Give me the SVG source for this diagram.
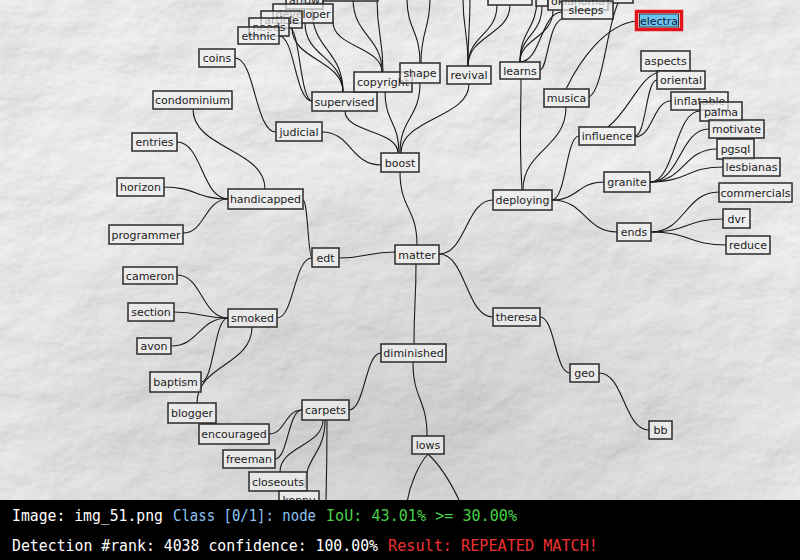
<svg xmlns="http://www.w3.org/2000/svg" width="800" height="560" viewBox="0 0 800 560">
  <defs>
    <style>
      .node rect { fill: #f0f0f0; fill-opacity: 0.7; stroke: #2a2a2a; stroke-width: 1.5; }
      .node text { font-family: "DejaVu Sans", "Noto Sans", sans-serif; font-size: 11px; fill: #1c1c1c; text-anchor: middle; }
      .links path { fill: none; stroke: #1a1a1a; stroke-width: 1.1; }
      .hud { font-family: "DejaVu Sans Mono", "Liberation Mono", monospace; font-size: 15px; }
    </style>
    <!-- crumpled paper surface -->
    <filter id="paper" x="0" y="0" width="800" height="500" filterUnits="userSpaceOnUse">
      <feTurbulence type="fractalNoise" baseFrequency="0.009 0.012" numOctaves="6" seed="11" result="noise"/>
      <feDiffuseLighting in="noise" lighting-color="#f4f4f4" surfaceScale="4.5" diffuseConstant="1.05" result="lit">
        <feDistantLight azimuth="235" elevation="58"/>
      </feDiffuseLighting>
    </filter>
    <radialGradient id="shade" cx="0.5" cy="0.9" r="0.65">
      <stop offset="0" stop-color="#000" stop-opacity="0.12"/>
      <stop offset="1" stop-color="#000" stop-opacity="0"/>
    </radialGradient>
  </defs>

  <!-- background -->
  <rect x="0" y="0" width="800" height="500" filter="url(#paper)"/>
  <rect x="0" y="0" width="800" height="500" fill="url(#shade)"/>

  <!-- connectors -->
  <g id="links" class="links">
    <path d="M417,245 C417,208 400,209 400,172"/>
    <path d="M395,252 C367,252 367,258 339,258"/>
    <path d="M439,254 C466,254 466,200 493,200"/>
    <path d="M439,254 C466,254 466,317 493,317"/>
    <path d="M416,263 C416,303 414,303 414,344"/>
    <path d="M303,200 C308,200 308,258 312,258"/>
    <path d="M312,258 C294,258 294,318 277,318"/>
    <path d="M265,189 C265,149 193,149 193,109"/>
    <path d="M228,199 C202,199 202,142 177,142"/>
    <path d="M228,199 C196,199 196,187 164,187"/>
    <path d="M228,199 C205,199 205,233 183,233"/>
    <path d="M381,165 C351,165 351,132 322,132"/>
    <path d="M276,132 C255,132 255,58 235,58"/>
    <path d="M398,153 C398,130 345,133 345,111"/>
    <path d="M399,153 C399,122 385,122 385,92"/>
    <path d="M400,153 C400,118 420,118 420,83"/>
    <path d="M401,153 C401,118 469,118 469,84"/>
    <path d="M312,101 C295,101 295,36 279,36"/>
    <path d="M312,101 C300,101 300,27 289,27"/>
    <path d="M343,92 C343,60 292,60 292,28"/>
    <path d="M343,92 C343,57 305,57 305,23"/>
    <path d="M343,92 C343,50 312,50 312,9"/>
    <path d="M382,72 C382,47 333,47 333,22"/>
    <path d="M382,72 C382,36 353,36 353,-2"/>
    <path d="M383,72 C383,36 377,36 377,-2"/>
    <path d="M420,63 C420,30 407,30 407,-2"/>
    <path d="M421,63 C421,30 430,30 430,-2"/>
    <path d="M468,66 C468,30 463,30 463,-2"/>
    <path d="M468,66 C468,30 470,30 470,-2"/>
    <path d="M468,66 C468,35 497,35 497,5"/>
    <path d="M468,66 C468,35 510,35 510,5"/>
    <path d="M520,62 C520,30 537,30 537,-2"/>
    <path d="M520,62 C520,35 542,35 542,6"/>
    <path d="M520,62 C520,38 553,38 553,10"/>
    <path d="M520,62 C541,62 541,12 562,12"/>
    <path d="M540,70 C548,70 548,18 565,18"/>
    <path d="M589,97 C603,90 606,30 618,3"/>
    <path d="M566,89 C580,60 605,25 636,21"/>
    <path d="M522,190 C519,140 521,120 521,79"/>
    <path d="M523,190 C523,150 566,148 566,107"/>
    <path d="M552,200 C566,200 566,136 579,136"/>
    <path d="M552,200 C578,200 578,182 604,182"/>
    <path d="M552,200 C585,200 585,232 617,232"/>
    <path d="M608,127 C630,110 640,75 660,72"/>
    <path d="M635,136 C646,136 646,80 657,80"/>
    <path d="M635,137 C653,137 653,101 671,101"/>
    <path d="M650,182 C675,182 675,111 700,111"/>
    <path d="M650,182 C680,182 680,129 709,129"/>
    <path d="M650,182 C684,182 684,149 717,149"/>
    <path d="M650,182 C687,182 687,167 723,167"/>
    <path d="M651,232 C685,232 685,192 719,192"/>
    <path d="M651,232 C687,232 687,219 723,219"/>
    <path d="M651,232 C689,232 689,245 726,245"/>
    <path d="M540,317 C555,317 555,373 570,373"/>
    <path d="M599,373 C624,373 624,430 649,430"/>
    <path d="M381,353 C365,353 365,410 349,410"/>
    <path d="M413,362 C413,400 427,398 427,436"/>
    <path d="M428,454 C418,465 410,485 407,502"/>
    <path d="M428,454 C440,465 452,485 460,502"/>
    <path d="M302,410 C285,410 285,434 269,434"/>
    <path d="M302,410 C288,410 288,459 275,459"/>
    <path d="M323,420 C323,446 280,446 280,472"/>
    <path d="M325,420 C325,455 305,455 305,488"/>
    <path d="M327,420 C327,460 327,460 326,502"/>
    <path d="M228,318 C202,318 202,275 177,275"/>
    <path d="M228,318 C201,318 201,312 174,312"/>
    <path d="M228,318 C199,318 199,346 171,346"/>
    <path d="M228,318 C214,318 214,382 201,382"/>
    <path d="M252,327 C252,365 197,365 197,403"/>
  </g>

  <!-- nodes -->
  <g id="n-top1" class="node"><rect x="323" y="-18" width="55" height="19"/></g>
  <g id="n-top2" class="node"><rect x="488" y="-15" width="44" height="20"/></g>
  <g id="n-top3" class="node"><rect x="536" y="-14" width="12" height="20"/></g>
  <g id="n-top4" class="node"><rect x="608" y="-14" width="25" height="17"/></g>
  <g id="n-fa" class="node"><rect x="304" y="-16" width="19" height="19"/><text x="313.5" y="-1">fa</text></g>
  <g id="n-arrow" class="node"><rect x="286" y="-9" width="37" height="18"/><text x="304.5" y="4">arrow</text></g>
  <g id="n-developer" class="node"><rect x="273" y="4" width="60" height="19"/><text x="303" y="17.5">developer</text></g>
  <g id="n-article" class="node"><rect x="261" y="11" width="41" height="17"/><text x="281.5" y="23.5">article</text></g>
  <g id="n-needs" class="node"><rect x="249" y="18" width="40" height="18"/><text x="269" y="31">needs</text></g>
  <g id="n-ethnic" class="node"><rect x="238" y="27" width="41" height="17"/><text x="258.5" y="39.5">ethnic</text></g>
  <g id="n-oklahoma" class="node"><rect x="548" y="-8" width="60" height="18"/><text x="578" y="5">oklahoma</text></g>
  <g id="n-sleeps" class="node"><rect x="562" y="1" width="51" height="18"/><text x="586" y="14">sleeps</text></g>

  <g id="n-matter" class="node"><rect x="395" y="245" width="44" height="19"/><text x="417" y="258.5">matter</text></g>
  <g id="n-boost" class="node"><rect x="381" y="153" width="38" height="19"/><text x="400" y="166.5">boost</text></g>
  <g id="n-edt" class="node"><rect x="312" y="248" width="27" height="19"/><text x="325.5" y="261.5">edt</text></g>
  <g id="n-deploying" class="node"><rect x="493" y="190" width="59" height="20"/><text x="522.5" y="204">deploying</text></g>
  <g id="n-theresa" class="node"><rect x="493" y="308" width="47" height="18"/><text x="516.5" y="321">theresa</text></g>
  <g id="n-diminished" class="node"><rect x="381" y="344" width="65" height="18"/><text x="413.5" y="357">diminished</text></g>
  <g id="n-handicapped" class="node"><rect x="228" y="189" width="75" height="20"/><text x="265.5" y="203">handicapped</text></g>
  <g id="n-smoked" class="node"><rect x="228" y="309" width="49" height="18"/><text x="252.5" y="322">smoked</text></g>
  <g id="n-judicial" class="node"><rect x="276" y="122" width="46" height="19"/><text x="299" y="135.5">judicial</text></g>
  <g id="n-coins" class="node"><rect x="199" y="49" width="36" height="18"/><text x="217" y="62">coins</text></g>
  <g id="n-condominium" class="node"><rect x="153" y="91" width="79" height="18"/><text x="192.5" y="104">condominium</text></g>
  <g id="n-entries" class="node"><rect x="132" y="133" width="45" height="18"/><text x="154.5" y="146">entries</text></g>
  <g id="n-horizon" class="node"><rect x="117" y="178" width="47" height="18"/><text x="140.5" y="191">horizon</text></g>
  <g id="n-programmer" class="node"><rect x="109" y="225" width="74" height="19"/><text x="146" y="238.5">programmer</text></g>
  <g id="n-supervised" class="node"><rect x="312" y="92" width="65" height="19"/><text x="344.5" y="105.5">supervised</text></g>
  <g id="n-copyright" class="node"><rect x="354" y="72" width="58" height="20"/><text x="383" y="86">copyright</text></g>
  <g id="n-shape" class="node"><rect x="400" y="63" width="40" height="20"/><text x="420" y="77">shape</text></g>
  <g id="n-revival" class="node"><rect x="447" y="66" width="44" height="18"/><text x="469" y="79">revival</text></g>
  <g id="n-learns" class="node"><rect x="500" y="62" width="40" height="17"/><text x="520" y="74.5">learns</text></g>
  <g id="n-musica" class="node"><rect x="544" y="89" width="45" height="18"/><text x="566.5" y="102">musica</text></g>
  <g id="n-influence" class="node"><rect x="579" y="127" width="56" height="18"/><text x="607" y="140">influence</text></g>
  <g id="n-aspects" class="node"><rect x="641" y="51" width="49" height="20"/><text x="665.5" y="65">aspects</text></g>
  <g id="n-oriental" class="node"><rect x="657" y="71" width="48" height="18"/><text x="681" y="84">oriental</text></g>
  <g id="n-inflatable" class="node"><rect x="671" y="92" width="57" height="18"/><text x="699.5" y="105">inflatable</text></g>
  <g id="n-palma" class="node"><rect x="700" y="102" width="42" height="19"/><text x="721" y="115.5">palma</text></g>
  <g id="n-motivate" class="node"><rect x="709" y="120" width="55" height="18"/><text x="736.5" y="133">motivate</text></g>
  <g id="n-pgsql" class="node"><rect x="717" y="139" width="37" height="20"/><text x="735.5" y="153">pgsql</text></g>
  <g id="n-lesbianas" class="node"><rect x="723" y="158" width="57" height="18"/><text x="751.5" y="171">lesbianas</text></g>
  <g id="n-granite" class="node"><rect x="604" y="172" width="46" height="20"/><text x="627" y="186">granite</text></g>
  <g id="n-ends" class="node"><rect x="617" y="223" width="34" height="18"/><text x="634" y="236">ends</text></g>
  <g id="n-commercials" class="node"><rect x="719" y="183" width="73" height="19"/><text x="755.5" y="196.5">commercials</text></g>
  <g id="n-dvr" class="node"><rect x="723" y="209" width="27" height="19"/><text x="736.5" y="222.5">dvr</text></g>
  <g id="n-reduce" class="node"><rect x="726" y="236" width="44" height="18"/><text x="748" y="249">reduce</text></g>
  <g id="n-geo" class="node"><rect x="570" y="364" width="29" height="18"/><text x="584.5" y="377">geo</text></g>
  <g id="n-bb" class="node"><rect x="649" y="421" width="23" height="18"/><text x="660.5" y="434">bb</text></g>
  <g id="n-cameron" class="node"><rect x="123" y="267" width="54" height="17"/><text x="150" y="279.5">cameron</text></g>
  <g id="n-section" class="node"><rect x="128" y="303" width="46" height="18"/><text x="151" y="316">section</text></g>
  <g id="n-avon" class="node"><rect x="137" y="338" width="34" height="16"/><text x="154" y="350">avon</text></g>
  <g id="n-baptism" class="node"><rect x="150" y="372" width="51" height="20"/><text x="175.5" y="386">baptism</text></g>
  <g id="n-blogger" class="node"><rect x="168" y="403" width="48" height="20"/><text x="192" y="417">blogger</text></g>
  <g id="n-encouraged" class="node"><rect x="199" y="424" width="70" height="20"/><text x="234" y="438">encouraged</text></g>
  <g id="n-carpets" class="node"><rect x="302" y="400" width="47" height="20"/><text x="325.5" y="414">carpets</text></g>
  <g id="n-freeman" class="node"><rect x="223" y="450" width="52" height="18"/><text x="249" y="463">freeman</text></g>
  <g id="n-closeouts" class="node"><rect x="249" y="472" width="58" height="19"/><text x="278" y="485.5">closeouts</text></g>
  <g id="n-kenny" class="node"><rect x="279" y="491" width="40" height="18"/><text x="299" y="504">kenny</text></g>
  <g id="n-lows" class="node"><rect x="412" y="436" width="32" height="18"/><text x="428" y="449">lows</text></g>

  <!-- highlighted node -->
  <g id="n-electra">
    <rect x="636.5" y="11.5" width="45" height="18" fill="none" stroke="#e3141b" stroke-width="3.5"/>
    <rect x="639.5" y="14" width="39" height="13" fill="#6cc3ee" stroke="#1a1a1a" stroke-width="0.8"/>
    <text x="659" y="24.5" font-family="DejaVu Sans, sans-serif" font-size="11" fill="#10203a" text-anchor="middle">electra</text>
  </g>

  <!-- status bar -->
  <g id="status">
    <rect x="0" y="500" width="800" height="60" fill="#000"/>
    <text class="hud" x="12" y="521" fill="#ffffff" textLength="151" lengthAdjust="spacingAndGlyphs">Image: img_51.png</text>
    <text class="hud" x="173" y="521" fill="#8ec3f2" textLength="143" lengthAdjust="spacingAndGlyphs">Class [0/1]: node</text>
    <text class="hud" x="326" y="521" fill="#45d045" textLength="191" lengthAdjust="spacingAndGlyphs">IoU: 43.01% &gt;= 30.00%</text>
    <text class="hud" x="12" y="551" fill="#ffffff" textLength="366" lengthAdjust="spacingAndGlyphs">Detection #rank: 4038 confidence: 100.00%</text>
    <text class="hud" x="388" y="551" fill="#ee3030" textLength="210" lengthAdjust="spacingAndGlyphs">Result: REPEATED MATCH!</text>
  </g>
</svg>
